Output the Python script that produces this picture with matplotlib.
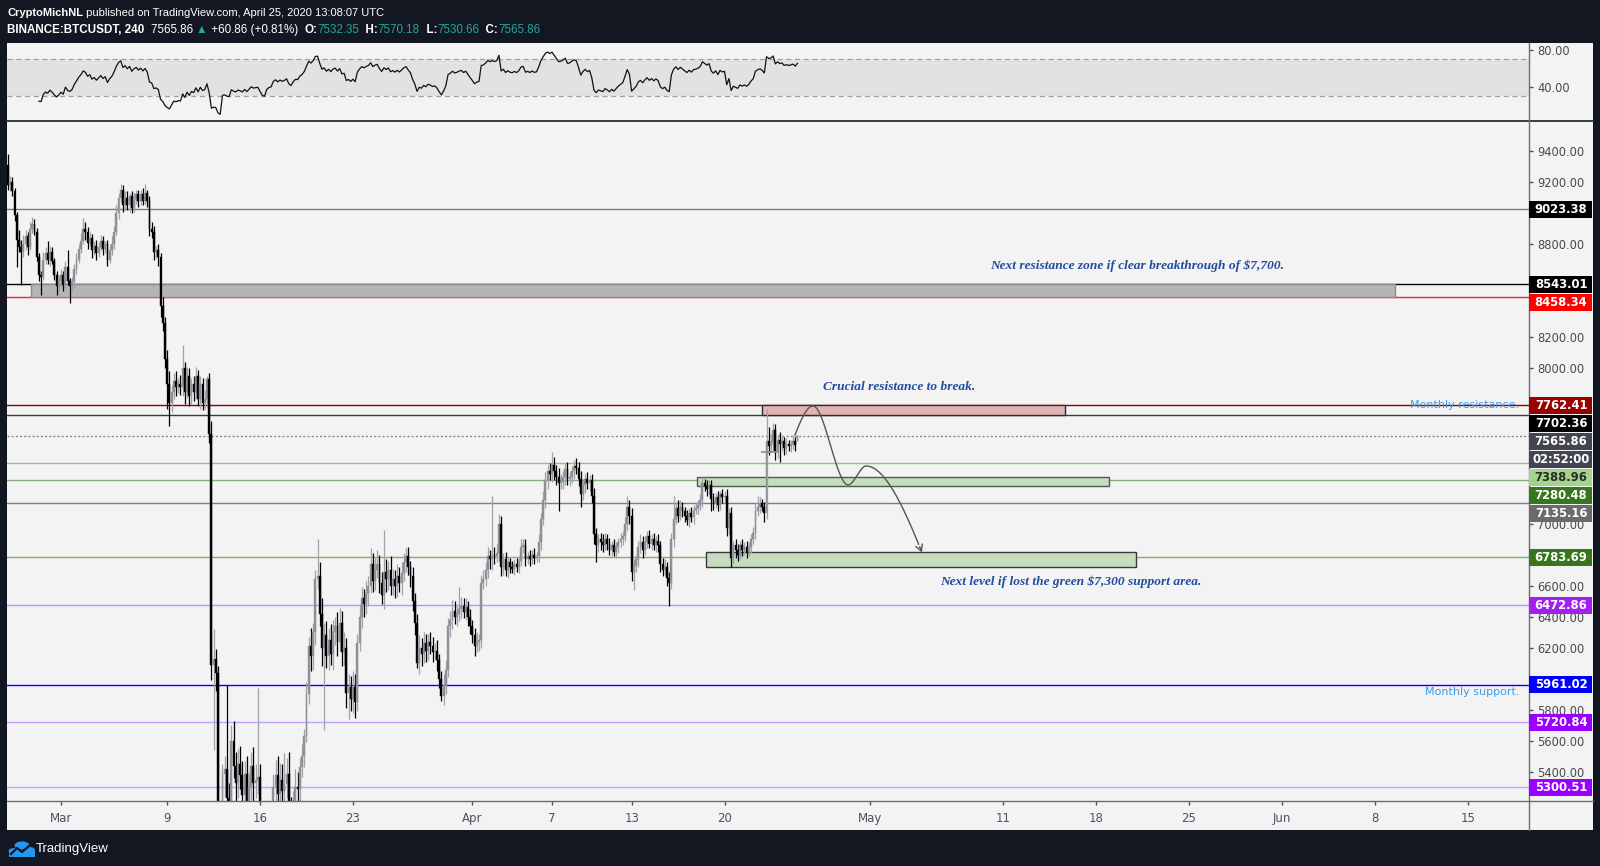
import numpy as np
import pandas as pd
import matplotlib
matplotlib.use("Agg")
import matplotlib.pyplot as plt
import matplotlib.dates as mdates
from matplotlib.patches import Rectangle, Circle
from matplotlib.lines import Line2D
from matplotlib import font_manager

# ---------------- data ----------------
author = "CryptoMichNL"
published = " published on TradingView.com, April 25, 2020 13:08:07 UTC"
symbol = "BINANCE:BTCUSDT"
interval = "240"
first_bar = "2020-02-26 00:00"
bar_hours = 4
first_open = 9310
last_open = 7532.35
countdown = "02:52:00"

# 4h closes, one row per day (Feb 26 .. Apr 25)
closes = [
    9180, 9200, 9140, 8990, 8830, 8780,
    8750, 8800, 8850, 8780, 8900, 8930,
    8880, 8720, 8600, 8590, 8700, 8740,
    8700, 8750, 8690, 8600, 8530, 8560,
    8600, 8540, 8650, 8560, 8530, 8560,
    8640, 8700, 8770, 8820, 8900, 8880,
    8810, 8840, 8760, 8790, 8740, 8780,
    8820, 8770, 8800, 8700, 8760, 8800,
    8880, 9000, 9100, 9150, 9050, 9100,
    9050, 9110, 9030, 9090, 9120, 9080,
    9120, 9080, 9130, 9080, 8900, 8880,
    8750, 8760, 8720, 8400, 8290, 8060,
    7900, 7780, 7850, 7920, 7880, 7900,
    7880, 8000, 7850, 7950, 7820, 7900,
    7850, 7950, 7800, 7900, 7780, 7800,
    7930, 7580, 6090, 6130, 6040, 4800,
    4300, 5390, 5420, 5230, 5150, 5600,
    5440, 5330, 5450, 5380, 5250, 5390,
    5180, 5300, 5440, 5330, 5350, 5370,
    5050, 4700, 4600, 4900, 5000, 5030,
    5300, 5380, 5260, 5350, 5280, 5320,
    5390, 5150, 5050, 5200, 5300, 5290,
    5430, 5500, 5630, 5900, 6210, 6150,
    6300, 6640, 6660, 6420, 6200, 6280,
    6150, 6250, 6160, 6300, 6340, 6240,
    6360, 6170, 6200, 5910, 5950, 5870,
    5950, 5850, 6230, 6400, 6520, 6480,
    6550, 6600, 6740, 6630, 6700, 6740,
    6620, 6540, 6690, 6640, 6700, 6600,
    6640, 6600, 6660, 6620, 6680, 6750,
    6790, 6720, 6660, 6500, 6360, 6100,
    6200, 6160, 6230, 6180, 6240, 6210,
    6170, 6180, 6120, 6000, 5890, 5960,
    6060, 6340, 6380, 6440, 6400, 6420,
    6450, 6470, 6430, 6460, 6400, 6340,
    6280, 6210, 6240, 6250, 6620, 6640,
    6700, 6790, 6770, 6800, 6790, 6810,
    7000, 6720, 6770, 6700, 6750, 6720,
    6710, 6740, 6720, 6760, 6850, 6860,
    6770, 6790, 6770, 6800, 6780, 6790,
    6880, 7030, 7150, 7280, 7340, 7320,
    7380, 7340, 7300, 7260, 7270, 7300,
    7350, 7290, 7300, 7340, 7370, 7360,
    7290, 7190, 7250, 7290, 7260, 7280,
    7180, 6930, 6860, 6900, 6880, 6860,
    6900, 6870, 6830, 6860, 6820, 6850,
    6880, 6900, 6920, 7000, 7110, 7050,
    6690, 6730, 6770, 6850, 6880, 6830,
    6880, 6920, 6870, 6900, 6860, 6890,
    6860, 6740, 6700, 6720, 6650, 6620,
    6900, 7030, 7100, 7050, 7110, 7080,
    7050, 7020, 7070, 7040, 7090, 7100,
    7120, 7150, 7260, 7240, 7220, 7250,
    7160, 7130, 7170, 7120, 7190, 7170,
    7180, 6970, 7070, 6780, 6860, 6830,
    6800, 6860, 6830, 6850, 6820, 6850,
    6900, 6940, 7080, 7110, 7130, 7110,
    7070, 7530, 7500, 7520, 7600, 7470,
    7540, 7510, 7530, 7490, 7510, 7500,
    7510, 7530, 7505, 7565.86,
]

# upper wick above the body, per bar
wick_up = [
    70, 40, 30, 25, 20, 60,   50, 60, 40, 30, 45, 45,   30, 25, 20, 30, 50, 40,
    80, 40, 30, 20, 25, 40,   40, 30, 40, 110, 20, 30,  30, 40, 30, 50, 70, 40,
    30, 40, 25, 30, 40, 35,   40, 30, 20, 30, 40, 50,   40, 50, 30, 40, 30, 40,
    40, 20, 30, 40, 30, 30,   30, 40, 60, 20, 30, 40,   40, 30, 40, 20, 60, 40,
    60, 80, 40, 50, 60, 40,   60, 150, 40, 60, 50, 40,  50, 60, 40, 50, 40, 60,
    20, 40, 80, 190, 60, 40,  50, 60, 80, 540, 100, 100, 130, 90, 100, 120, 90, 80,
    110, 100, 90, 120, 100, 570, 80, 100, 120, 100, 90, 80, 90, 100, 120, 110, 100, 200,
    100, 140, 90, 80, 120, 100, 60, 80, 50, 80, 60, 120, 60, 60, 240, 90, 100, 80,
    90, 80, 100, 80, 60, 90,  95, 80, 100, 60, 80, 70,  100, 80, 60, 80, 70, 60,
    80, 60, 100, 70, 80, 90,  60, 70, 270, 80, 60, 90,  70, 60, 80, 60, 70, 60,
    50, 60, 40, 60, 50, 60,   80, 60, 70, 60, 50, 60,   60, 50, 70, 40, 50, 70,
    60, 50, 60, 70, 60, 50,   140, 60, 50, 60, 40, 50,  40, 50, 60, 40, 50, 60,
    50, 60, 40, 380, 50, 60,  60, 50, 40, 50, 40, 30,   40, 30, 40, 30, 50, 40,
    40, 30, 40, 30, 40, 30,   50, 40, 60, 50, 40, 50,   80, 50, 40, 60, 50, 40,
    40, 50, 40, 30, 40, 50,   40, 50, 40, 30, 40, 30,   40, 50, 40, 30, 40, 50,
    40, 30, 40, 30, 40, 30,   30, 40, 30, 40, 70, 40,   50, 40, 30, 40, 50, 40,
    40, 30, 40, 30, 40, 30,   40, 30, 40, 50, 30, 40,   40, 150, 40, 50, 40, 30,
    30, 40, 30, 40, 30, 40,   30, 40, 40, 30, 40, 30,   30, 40, 30, 40, 20, 30,
    30, 40, 30, 40, 30, 40,   40, 30, 40, 30, 40, 30,   30, 40, 50, 65, 40, 30,
    30, 210, 90, 60, 50, 40,  40, 50, 40, 30, 40, 30,   30, 40, 30, 4.32,
]

# lower wick below the body, per bar
wick_dn = [
    30, 40, 30, 40, 180, 30,  210, 30, 40, 50, 20, 30,  20, 30, 40, 120, 20, 30,
    30, 40, 20, 30, 60, 30,   30, 40, 20, 20, 110, 40,  40, 30, 20, 30, 20, 50,
    40, 20, 50, 30, 40, 20,   20, 40, 30, 40, 20, 30,   30, 20, 40, 30, 40, 30,
    30, 40, 30, 20, 30, 40,   30, 30, 20, 40, 50, 40,   50, 40, 60, 70, 50, 60,
    160, 150, 60, 50, 60, 40, 50, 60, 80, 40, 60, 50,   60, 50, 40, 60, 50, 40,
    50, 60, 100, 550, 120, 150, 500, 200, 150, 100, 250, 150, 80, 120, 100, 90, 110, 100,
    150, 100, 80, 120, 100, 90, 120, 150, 150, 100, 90, 100, 100, 80, 120, 90, 110, 80,
    90, 110, 150, 100, 80, 90, 80, 60, 70, 40, 60, 100,  90, 80, 60, 80, 120, 530,
    80, 90, 70, 100, 80, 90,  60, 90, 80, 100, 170, 80, 90, 100, 60, 50, 70, 80,
    60, 80, 50, 70, 60, 50,   70, 60, 90, 80, 70, 60,   60, 80, 70, 60, 80, 50,
    60, 50, 70, 60, 80, 30,   70, 80, 60, 70, 60, 50,   60, 50, 70, 60, 30, 60,
    60, 50, 70, 60, 50, 60,   50, 60, 40, 50, 60, 50,   50, 60, 40, 60, 50, 40,
    40, 50, 60, 70, 50, 40,   50, 60, 50, 40, 50, 40,   30, 40, 30, 40, 30, 40,
    40, 30, 40, 30, 40, 30,   40, 50, 40, 50, 60, 40,   50, 60, 50, 180, 40, 50,
    50, 40, 50, 40, 50, 40,   50, 80, 40, 50, 40, 50,   50, 60, 110, 40, 50, 40,
    30, 40, 30, 40, 30, 40,   40, 30, 40, 30, 40, 50,   60, 120, 40, 50, 40, 50,
    30, 40, 30, 40, 30, 40,   40, 50, 40, 30, 50, 150,  40, 50, 30, 40, 30, 40,
    40, 30, 40, 30, 40, 30,   40, 30, 40, 30, 40, 30,   80, 40, 30, 40, 30, 40,
    40, 50, 40, 60, 40, 50,   40, 30, 40, 30, 40, 30,   40, 30, 40, 30, 40, 30,
    60, 40, 60, 40, 50, 60,   50, 110, 40, 50, 40, 30,  40, 30, 40, 1.69,
]

# horizontal levels drawn on the chart
levels = [9023.38, 8543.01, 8458.34, 7762.41, 7702.36, 7388.96, 7280.48,
          7135.16, 6783.69, 6472.86, 5961.02, 5720.84, 5300.51]
level_line_colors = ['#7b7b7b', '#000000', '#ff2020', '#8b0000', '#3a3a3a', '#8fc47a',
                     '#8aae80', '#7d7d7d', '#7db36a', '#b993ff', '#0000ff', '#c3a1ff', '#c3a1ff']
level_label_bg = ['#000000', '#000000', '#ff0000', '#990000', '#000000', '#a4d38c',
                  '#38761d', '#6b6b6b', '#38761d', '#a020f0', '#0000ff', '#9900ff', '#9900ff']
level_label_fg = ['white', 'white', 'white', 'white', 'white', '#2b2b2b',
                  'white', 'white', 'white', 'white', 'white', 'white', 'white']

# rectangles (zones)
zone_low = [8458.34, 7702.36, 7243, 6722]
zone_high = [8543.01, 7762.41, 7300, 6818]
zone_start = ["2020-02-27 18:00", "2020-04-22 20:00", "2020-04-17 22:00", "2020-04-18 14:00"]
zone_end = ["2020-06-09 12:00", "2020-05-15 16:00", "2020-05-19 00:00", "2020-05-21 00:00"]
zone_face = ['#b5b5b5', '#e0b4b4', '#c5dcbf', '#c5dcbf']
zone_edge = ['#8a8a8a', '#2e2e2e', '#4d5e48', '#3a3a3a']

# projected path
path_times = ["2020-04-25 07:30", "2020-04-26 16:00", "2020-04-29 07:30",
              "2020-04-30 16:00", "2020-05-04 23:00"]
path_prices = [7571, 7758, 7249, 7371, 6798]

# small marker line
mark_times = ["2020-04-22 20:00", "2020-04-24 00:00"]
mark_price = 7462

# notes
note_texts = ["Next resistance zone if clear breakthrough of $7,700.",
              "Crucial resistance to break.",
              "Next level if lost the green $7,300 support area."]
note_times = ["2020-05-21 02:00", "2020-05-03 04:00", "2020-05-16 03:00"]
note_prices = [8660, 7880, 6624]

side_notes = ["Monthly resistance.", "Monthly support."]
side_prices = [7762.41, 5918]

tick_dates = ["2020-03-01", "2020-03-09", "2020-03-16", "2020-03-23", "2020-04-01",
              "2020-04-07", "2020-04-13", "2020-04-20", "2020-05-01", "2020-05-11",
              "2020-05-18", "2020-05-25", "2020-06-01", "2020-06-08", "2020-06-15"]
tick_labels = ["Mar", "9", "16", "23", "Apr", "7", "13", "20", "May", "11",
               "18", "25", "Jun", "8", "15"]

# ---------------- fonts ----------------
avail = {f.name for f in font_manager.fontManager.ttflist}
if 'Liberation Sans Narrow' in avail:
    HFONT = ['Liberation Sans Narrow', 'DejaVu Sans']
    HSIZE1, HSIZE2 = 9.6, 9.6
else:
    HFONT = ['Liberation Sans', 'DejaVu Sans']
    HSIZE1, HSIZE2 = 8.0, 8.4
AXFONT = ['DejaVu Sans']
SERIF = ['Liberation Serif', 'DejaVu Serif']

# ---------------- layout ----------------
W, H = 1600, 866
BG = '#f3f3f3'
DARK = '#131722'
fig = plt.figure(figsize=(W / 100, H / 100), dpi=100)
fig.patch.set_facecolor(DARK)


def frect(x0, y0, x1, y1):
    return [x0 / W, 1 - y1 / H, (x1 - x0) / W, (y1 - y0) / H]


fig.add_artist(Rectangle((7 / W, 1 - 830 / H), (1593 - 7) / W, (830 - 43) / H,
                         transform=fig.transFigure, facecolor=BG, edgecolor='none', zorder=0))

X0, X1 = 7, 1529
MAIN_T, MAIN_B = 122, 801
ax = fig.add_axes(frect(X0, MAIN_T, X1, MAIN_B))
axr = fig.add_axes(frect(X0, 43, X1, 120), sharex=ax)
for a in (ax, axr):
    a.set_facecolor(BG)
    for s in a.spines.values():
        s.set_visible(False)

# x scale: Mar 1 at px 61, 13.27 px per day
mar1 = mdates.date2num(pd.Timestamp("2020-03-01").to_pydatetime())
PXD = 13.27
xlo = mar1 + (X0 - 61) / PXD
xhi = mar1 + (X1 - 61) / PXD
ax.set_xlim(xlo, xhi)
YMIN, YMAX = 5213, 9587
ax.set_ylim(YMIN, YMAX)


def tnum(s):
    return mdates.date2num(pd.Timestamp(s).to_pydatetime())


def py_of(p):
    return MAIN_T + (YMAX - p) / (YMAX - YMIN) * (MAIN_B - MAIN_T)


# ---------------- candles ----------------
c = np.array(closes, dtype=float)
n = len(c)
o = np.concatenate([[first_open], c[:-1]])
o[-1] = last_open
hi = np.maximum(o, c) + np.array(wick_up, dtype=float)
lo = np.minimum(o, c) - np.array(wick_dn, dtype=float)
times = pd.date_range(first_bar, periods=n, freq=f"{bar_hours}h")
xs = mdates.date2num(times.to_pydatetime())
bull = c >= o
body_col = np.where(bull, '#8f8f97', '#000000')
wick_col = np.where(bull, '#a2a2aa', '#000000')
bw = bar_hours / 24 * 0.85
ax.vlines(xs, lo, hi, colors=wick_col, lw=0.9, zorder=3)
ax.bar(xs, np.maximum(np.abs(c - o), 7), bottom=np.minimum(o, c), width=bw,
       color=body_col, edgecolor=body_col, linewidth=0.3, zorder=3.1)

# ---------------- levels & zones ----------------
for p, col in zip(levels, level_line_colors):
    ax.axhline(p, color=col, lw=1.0, zorder=1)
ax.axhline(c[-1], color='#8a8a8a', lw=1.0, ls=(0, (1.5, 1.5)), zorder=1)

for lo_, hi_, s, e, fc, ec in zip(zone_low, zone_high, zone_start, zone_end, zone_face, zone_edge):
    ax.add_patch(Rectangle((tnum(s), lo_), tnum(e) - tnum(s), hi_ - lo_,
                           facecolor=fc, edgecolor=ec, lw=1.0, zorder=1.5))

ax.plot([tnum(mark_times[0]), tnum(mark_times[1])], [mark_price, mark_price],
        color='#8c8c8c', lw=1.2, zorder=3.5)

# ---------------- projected path (Hermite curve) ----------------
px = np.array([tnum(t) for t in path_times])
py = np.array(path_prices, dtype=float)


def herm(p0, p1, m0, m1, k=40):
    t = np.linspace(0, 1, k)[:, None]
    h00 = 2 * t**3 - 3 * t**2 + 1
    h10 = t**3 - 2 * t**2 + t
    h01 = -2 * t**3 + 3 * t**2
    h11 = t**3 - t**2
    return h00 * p0 + h10 * m0 + h01 * p1 + h11 * m1


P = np.column_stack([px, py])
segs = []
for i in range(len(P) - 1):
    d = P[i + 1] - P[i]
    m0 = np.array([d[0], 0.0])
    m1 = np.array([d[0], 0.0])
    if i == 0:
        m0 = np.array([d[0], 1.6 * d[1]])
    if i == len(P) - 2:
        m1 = np.array([d[0], 1.6 * d[1]])
    segs.append(herm(P[i], P[i + 1], m0, m1))
curve = np.vstack(segs)
ax.plot(curve[:-3, 0], curve[:-3, 1], color='#555555', lw=1.0, zorder=4)
ax.annotate('', xy=(curve[-1, 0], curve[-1, 1]), xytext=(curve[-4, 0], curve[-4, 1]),
            arrowprops=dict(arrowstyle='->,head_length=0.45,head_width=0.25',
                            color='#555555', lw=1.0), zorder=4)

# ---------------- notes ----------------
for txt, t, p in zip(note_texts, note_times, note_prices):
    ax.text(tnum(t), p, txt, ha='center', va='center', color='#1f4ba0',
            fontsize=9.6, fontstyle='italic', fontweight='bold', family=SERIF, zorder=5)
for txt, p in zip(side_notes, side_prices):
    ax.text(0.9935, p, txt, transform=ax.get_yaxis_transform(), ha='right', va='center',
            color='#3d9be9', fontsize=8, family=AXFONT, zorder=5)

# ---------------- price labels on the scale (stacked like TradingView) ----------------
entries = []
for p, bg, fg in zip(levels, level_label_bg, level_label_fg):
    entries.append((p, 0, f"{p:.2f}", bg, fg))
entries.append((c[-1], 0, f"{c[-1]:.2f}", '#434651', 'white'))
entries.append((c[-1], 1, countdown, '#434651', 'white'))
entries.sort(key=lambda e: (-e[0], e[1]))
LH, GAP = 17, 18
prev = -1e9
label_centers = []
for p, _, txt, bg, fg in entries:
    yc = max(py_of(p), prev + GAP)
    prev = yc
    label_centers.append(yc)
    fig.add_artist(Rectangle((X1 / W, 1 - (yc + LH / 2) / H), 63 / W, LH / H,
                             transform=fig.transFigure, facecolor=bg, edgecolor='none', zorder=7))
    fig.text((X1 + 32) / W, 1 - yc / H, txt, color=fg, fontsize=8.4, fontweight='bold',
             ha='center', va='center', family=AXFONT, zorder=8)

# ---------------- axes ticks ----------------
ax.yaxis.tick_right()
yt_all = np.arange(5400, 9401, 200)
# scale values that a price label box hides are not drawn
yt = [v for v in yt_all if min(abs(py_of(v) - yc) for yc in label_centers) >= 9.0]
ax.set_yticks(yt)
ax.set_yticklabels([f"{v:.2f}" for v in yt], family=AXFONT)
ax.tick_params(axis='y', length=3, width=1, color='#50535e', labelcolor='#4a4a4a',
               labelsize=8.3, pad=3)
ax.set_xticks([tnum(d) for d in tick_dates])
ax.set_xticklabels(tick_labels, family=AXFONT)
ax.tick_params(axis='x', length=3, width=1, color='#50535e', labelcolor='#4c525e',
               labelsize=8.5, pad=5)

# ---------------- RSI panel ----------------
def rma(x, k):
    out = np.full(len(x), np.nan)
    out[k] = np.mean(x[1:k + 1])
    for i in range(k + 1, len(x)):
        out[i] = (out[i - 1] * (k - 1) + x[i]) / k
    return out


delta = np.diff(c, prepend=c[0])
ag = rma(np.clip(delta, 0, None), 14)
al = rma(np.clip(-delta, 0, None), 14)
rsi = 100 - 100 / (1 + ag / al)
axr.set_ylim(3.7, 87.6)
axr.fill_between([xlo, xhi], 30, 70, color='#e2e2e4', zorder=0.5, lw=0)
axr.axhline(70, color='#a0a0a0', lw=0.9, ls=(0, (4, 3)), zorder=1)
axr.axhline(30, color='#a0a0a0', lw=0.9, ls=(0, (4, 3)), zorder=1)
axr.plot(xs, rsi, color='#111111', lw=0.9, zorder=3)
axr.yaxis.tick_right()
axr.set_yticks([80, 40])
axr.set_yticklabels(["80.00", "40.00"], family=AXFONT)
axr.tick_params(axis='y', length=3, width=1, color='#50535e', labelcolor='#4a4a4a',
                labelsize=8.3, pad=3)
axr.tick_params(axis='x', bottom=False, labelbottom=False)

# ---------------- separators ----------------
fig.add_artist(Line2D([7 / W, 1593 / W], [1 - 121 / H] * 2, transform=fig.transFigure,
                      color='#2a2e39', lw=1.3, zorder=6))
fig.add_artist(Line2D([X1 / W] * 2, [1 - 43 / H, 1 - 830 / H], transform=fig.transFigure,
                      color='#6a6d78', lw=1.0, zorder=6))
fig.add_artist(Line2D([7 / W, 1593 / W], [1 - MAIN_B / H] * 2, transform=fig.transFigure,
                      color='#6a6d78', lw=1.0, zorder=6))

# ---------------- header ----------------
renderer = fig.canvas.get_renderer()


def seq_text(x, y, parts, size):
    for s, col, wt in parts:
        t = fig.text(x / W, 1 - y / H, s, color=col, fontweight=wt, fontsize=size,
                     ha='left', va='center', family=HFONT, zorder=9)
        x += t.get_window_extent(renderer=renderer).width


TEAL = '#26a69a'
chg = c[-1] - c[-2]
pct = chg / c[-2] * 100
seq_text(7, 13, [(author, 'white', 'bold'), (published, 'white', 'normal')], HSIZE1)
seq_text(7, 30, [
    (f"{symbol}, {interval}  ", 'white', 'bold'),
    (f"{c[-1]:.2f} ", 'white', 'normal'),
    ("\u25b2", TEAL, 'normal'),
    (f" {chg:+.2f} ({pct:+.2f}%)  ", 'white', 'normal'),
    ("O:", 'white', 'bold'), (f"{o[-1]:.2f}", TEAL, 'normal'),
    ("  H:", 'white', 'bold'), (f"{hi[-1]:.2f}", TEAL, 'normal'),
    ("  L:", 'white', 'bold'), (f"{lo[-1]:.2f}", TEAL, 'normal'),
    ("  C:", 'white', 'bold'), (f"{c[-1]:.2f}", TEAL, 'normal'),
], HSIZE2)

# ---------------- TradingView logo ----------------
LOGO = '#2196f3'
for cx, cy, r in [(14, 851, 5.5), (22, 845.5, 7.5), (29.5, 850, 5.5)]:
    fig.add_artist(Circle((cx / W, 1 - cy / H), r / W, transform=fig.transFigure,
                          facecolor=LOGO, edgecolor='none', zorder=9))
fig.add_artist(Rectangle((8.5 / W, 1 - 857 / H), 26.5 / W, 7 / H, transform=fig.transFigure,
                         facecolor=LOGO, edgecolor='none', zorder=9))
fig.add_artist(Line2D([11 / W, 17 / W, 22 / W, 29 / W], [1 - 854 / H, 1 - 848 / H, 1 - 852 / H, 1 - 846 / H],
                      transform=fig.transFigure, color=DARK, lw=1.6, zorder=10))
fig.text(36 / W, 1 - 849 / H, "TradingView", color='white', fontsize=9.5,
         ha='left', va='center', family=HFONT, zorder=9)

fig.savefig("out.png", dpi=100, facecolor=DARK)
